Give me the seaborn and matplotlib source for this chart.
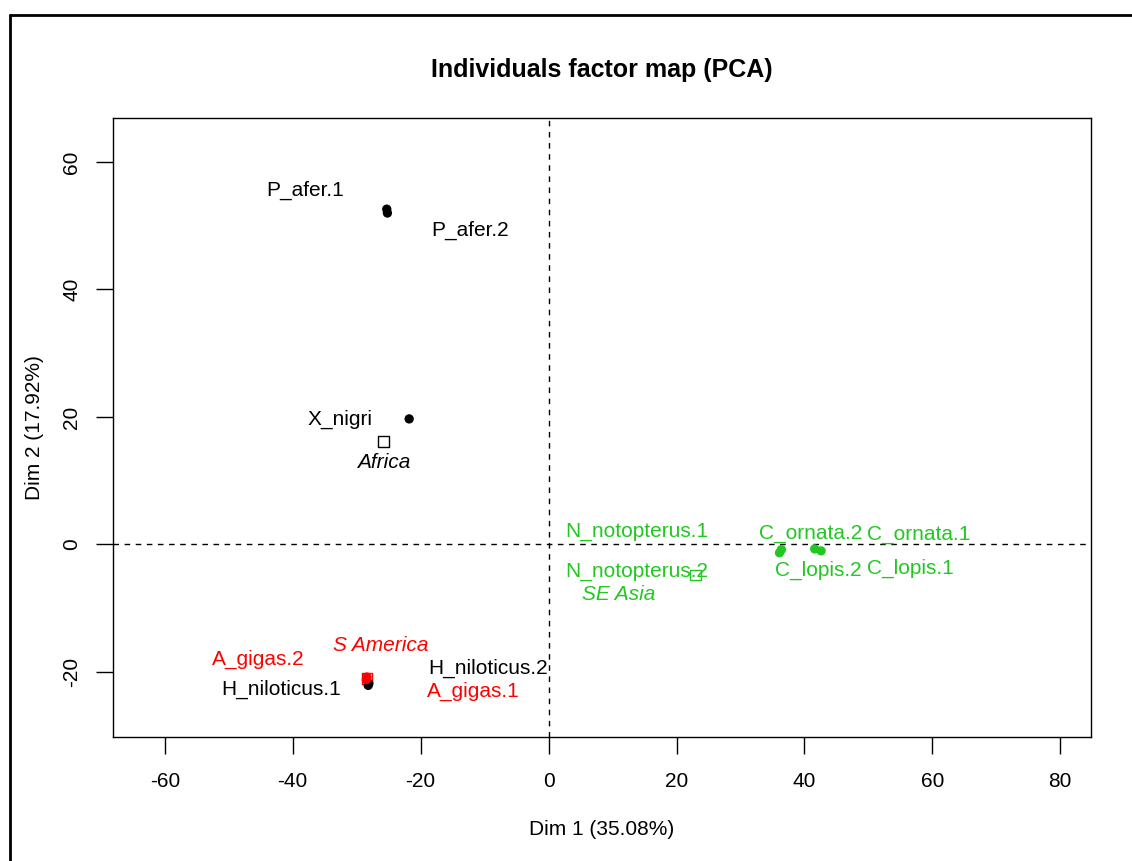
import matplotlib
matplotlib.use("Agg")
import matplotlib.pyplot as plt
import seaborn as sns
import pandas as pd
from matplotlib.lines import Line2D

# Individuals (visible points)
ind_names = ["P_afer.1", "P_afer.2", "X_nigri", "H_niloticus.1", "H_niloticus.2",
             "A_gigas.1", "A_gigas.2", "C_ornata.2", "C_lopis.2", "C_ornata.1", "C_lopis.1"]
ind_x = [-25.3, -25.2, -21.8, -28.2, -28.1, -28.4, -28.5, 36.1, 36.4, 41.6, 42.6]
ind_y = [52.6, 52.0, 19.7, -22.1, -21.8, -20.8, -21.2, -1.3, -0.8, -0.7, -1.0]
ind_group = ["Africa", "Africa", "Africa", "Africa", "Africa",
             "S America", "S America", "SE Asia", "SE Asia", "SE Asia", "SE Asia"]

# Label positions for individuals
lab_names = ["P_afer.1", "P_afer.2", "X_nigri", "A_gigas.2", "H_niloticus.1", "H_niloticus.2",
             "A_gigas.1", "N_notopterus.1", "N_notopterus.2", "C_ornata.2", "C_ornata.1",
             "C_lopis.2", "C_lopis.1"]
lab_x = [-38.1, -12.3, -32.6, -45.4, -41.8, -9.5, -11.8, 13.8, 13.8, 40.9, 57.8, 42.1, 56.5]
lab_y = [55.6, 49.3, 19.7, -18.0, -22.7, -19.5, -23.1, 2.0, -4.2, 1.8, 1.5, -4.0, -3.8]
lab_group = ["Africa", "Africa", "Africa", "S America", "Africa", "Africa", "S America",
             "SE Asia", "SE Asia", "SE Asia", "SE Asia", "SE Asia", "SE Asia"]

# Supplementary categories (centroids)
cat_names = ["Africa", "SE Asia", "S America"]
cat_x = [-25.8, 23.0, -28.4]
cat_y = [16.1, -4.8, -21.0]
cat_lab_x = [-25.8, 10.9, -26.2]
cat_lab_y = [12.9, -7.8, -15.9]

x_ticks = [-60, -40, -20, 0, 20, 40, 60, 80]
y_ticks = [-20, 0, 20, 40, 60]

palette = {"Africa": "#000000", "S America": "#FF0000", "SE Asia": "#22C822"}

sns.set_style("white")
plt.rcParams["font.family"] = ["Liberation Sans", "DejaVu Sans"]
plt.rcParams["text.color"] = "black"
plt.rcParams["axes.labelcolor"] = "black"
plt.rcParams["xtick.color"] = "black"
plt.rcParams["ytick.color"] = "black"

fig = plt.figure(figsize=(11.32, 8.61), dpi=100)
ax = fig.add_axes([113/1132, 1-737/861, (1091-113)/1132, (737-118)/861])

df_ind = pd.DataFrame({"x": ind_x, "y": ind_y, "group": ind_group})
sns.scatterplot(data=df_ind, x="x", y="y", hue="group", palette=palette, s=45,
                marker="o", edgecolor=None, linewidth=0, legend=False, ax=ax, zorder=3)

df_cat = pd.DataFrame({"x": cat_x, "y": cat_y, "group": cat_names})
sns.scatterplot(data=df_cat, x="x", y="y", hue="group", palette=palette, s=60,
                marker="s", linewidth=1.0, legend=False, ax=ax, zorder=2)
coll = ax.collections[-1]
coll.set_facecolor("none")
coll.set_edgecolor([palette[g] for g in cat_names])

for n, x, y, g in zip(lab_names, lab_x, lab_y, lab_group):
    ax.text(x, y, n, color=palette[g], fontsize=15, ha="center", va="center", zorder=4)
for n, x, y in zip(cat_names, cat_lab_x, cat_lab_y):
    ax.text(x, y, n, color=palette[n], fontsize=15, ha="center", va="center",
            style="italic", zorder=4)

ax.axhline(0, color="black", linestyle=(0, (4, 4)), linewidth=1.0, zorder=1)
ax.axvline(0, color="black", linestyle=(0, (4, 4)), linewidth=1.0, zorder=1)

ax.set_xlim(-68.1, 84.8)
ax.set_ylim(-30.2, 66.9)
ax.set_xticks(x_ticks)
ax.set_xticklabels([str(v) for v in x_ticks])
ax.set_yticks(y_ticks)
ax.set_yticklabels([str(v) for v in y_ticks], rotation=90, va="center")
ax.tick_params(axis="both", which="both", direction="out", length=12, width=1,
               color="black", labelsize=15, bottom=True, left=True)
ax.tick_params(axis="x", pad=13)
ax.tick_params(axis="y", pad=11)
for sp in ax.spines.values():
    sp.set_visible(True)
    sp.set_color("black")
    sp.set_linewidth(1.0)

ax.set_xlabel("Dim 1 (35.08%)", fontsize=15, labelpad=21)
ax.set_ylabel("Dim 2 (17.92%)", fontsize=15, labelpad=13)
fig.text(602/1132, 1-70/861, "Individuals factor map (PCA)", fontsize=18,
         fontweight="bold", ha="center", va="center")

# outer frame lines (top and left)
fig.add_artist(Line2D([10/1132, 1.0], [1-15/861, 1-15/861], color="black", linewidth=2,
                      transform=fig.transFigure))
fig.add_artist(Line2D([10/1132, 10/1132], [0, 1-15/861], color="black", linewidth=2,
                      transform=fig.transFigure))

fig.savefig("out.png", dpi=100)
